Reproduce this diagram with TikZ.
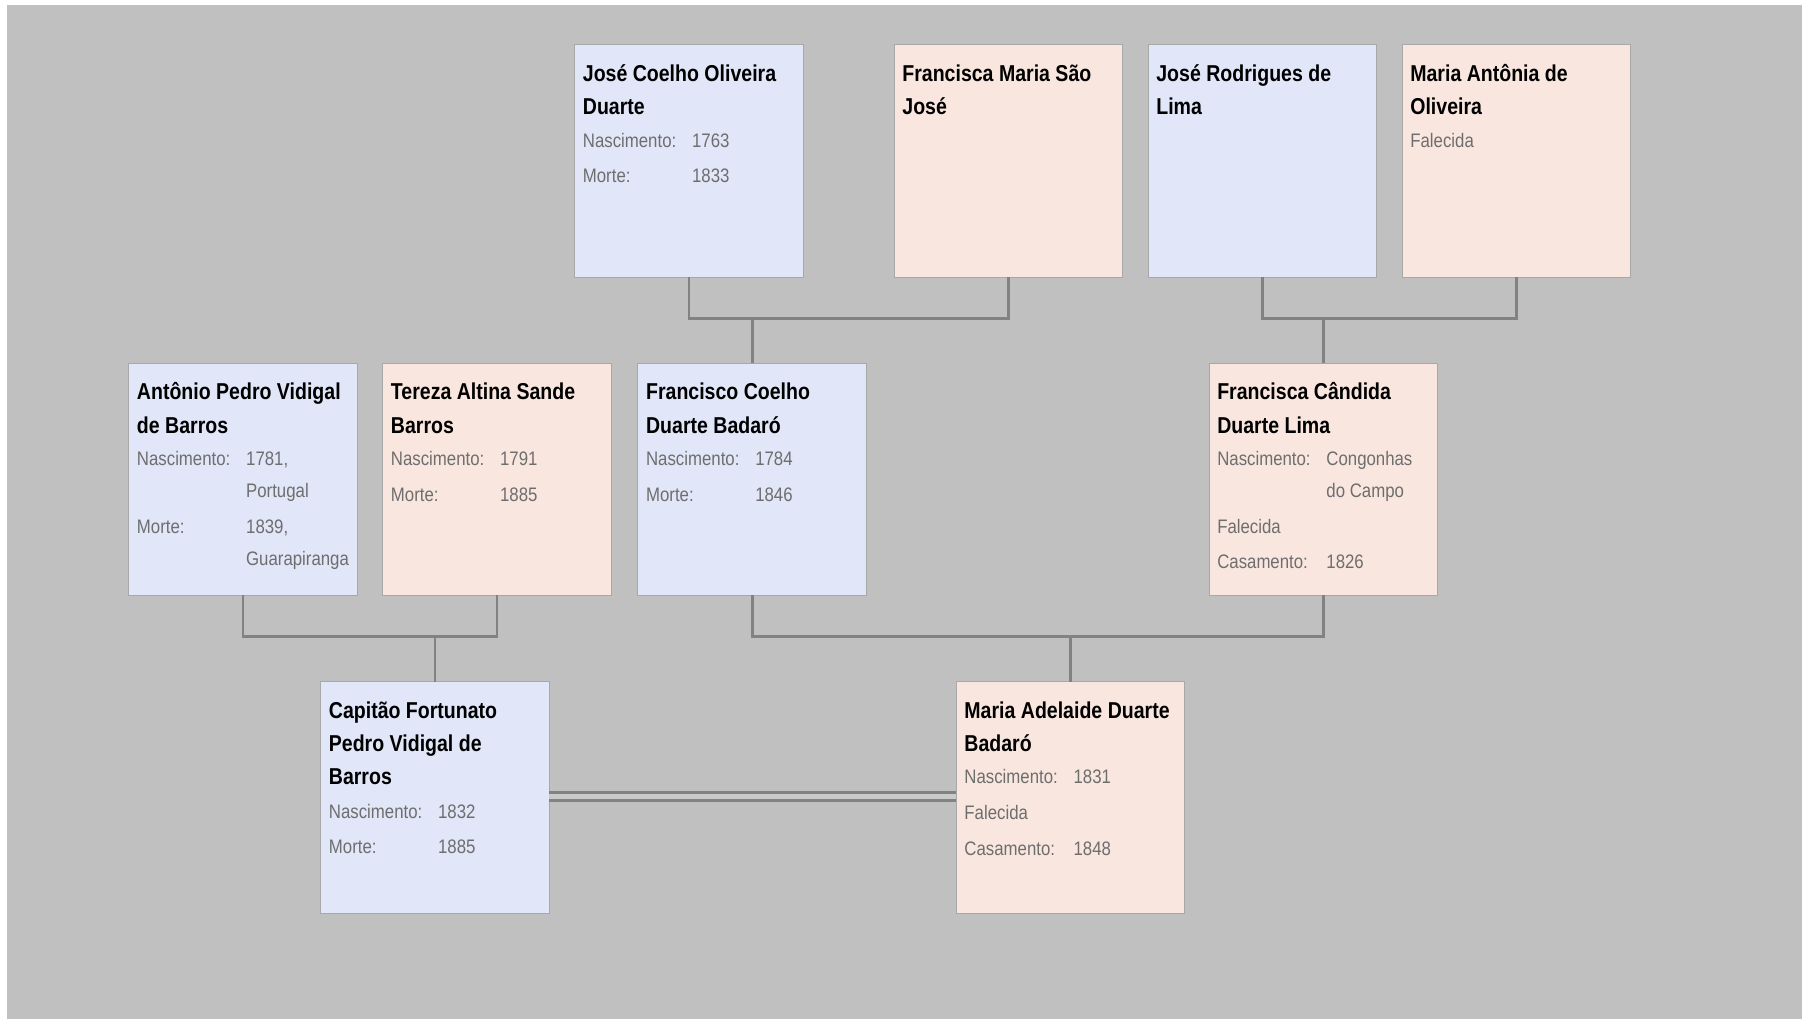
\documentclass[tikz,border=0pt]{standalone}
\usepackage{fontspec}
\setmainfont{Liberation Sans}
\newfontfamily\namefam[FakeStretch=0.85]{Liberation Sans}
\newfontfamily\detfam[FakeStretch=0.86]{Liberation Sans}
\usetikzlibrary{calc}
\definecolor{bgc}{HTML}{C0C0C0}
\definecolor{maleclr}{HTML}{E1E6F8}
\definecolor{femaleclr}{HTML}{F9E6DF}
\definecolor{edgeclr}{HTML}{A8A8A8}
\definecolor{lineclr}{HTML}{828282}
\definecolor{detclr}{HTML}{6E6E6E}
\definecolor{gapclr}{HTML}{CACACA}

\begin{document}
\begin{tikzpicture}[x=1pt,y=-1pt,
  card/.style={draw=edgeclr, line width=0.8pt, anchor=north west,
    minimum width=199pt, minimum height=202pt, inner sep=0pt, outer sep=0pt},
  male/.style={card, fill=maleclr},
  female/.style={card, fill=femaleclr},
  nm/.style={anchor=base west, inner sep=0pt,
    font=\namefam\bfseries\fontsize{20}{24}\selectfont, text=black},
  dt/.style={anchor=base west, inner sep=0pt,
    font=\detfam\fontsize{17}{20}\selectfont, text=detclr},
  conn/.style={draw=lineclr, line width=2.4pt},
  wed/.style={draw=lineclr, line width=3pt},
]
% page and background
\useasboundingbox (0,0) rectangle (1568,887);
\fill[white] (0,0) rectangle (1568,887);
\fill[bgc] (6.1,4.3) rectangle (1568,887);

% ---- cards ----
\node[male]   (jcod)  at (500,39)  {};
\node[female] (fmsj)  at (778,39)  {};
\node[male]   (jrl)   at (999,39)  {};
\node[female] (mao)   at (1220,39) {};
\node[male]   (apvb)  at (112,316) {};
\node[female] (tasb)  at (333,316) {};
\node[male]   (fcdb)  at (555,316) {};
\node[female] (fcdl)  at (1052,316) {};
\node[male]   (cfpvb) at (279,593) {};
\node[female] (madb)  at (832,593) {};

% ---- parent connectors ----
\coordinate (m1) at ($(jcod.south)+(0,36)$);
\draw[conn] (jcod.south) -- (m1) -| (fmsj.south);
\draw[conn] (m1 -| fcdb.north) -- (fcdb.north);

\coordinate (m2) at ($(jrl.south)+(0,36)$);
\draw[conn] (jrl.south) -- (m2) -| (mao.south);
\draw[conn] (m2 -| fcdl.north) -- (fcdl.north);

\coordinate (m3) at ($(apvb.south)+(0,36)$);
\draw[conn] (apvb.south) -- (m3) -| (tasb.south);
\draw[conn] (m3 -| cfpvb.north) -- (cfpvb.north);

\coordinate (m4) at ($(fcdb.south)+(0,36)$);
\draw[conn] (fcdb.south) -- (m4) -| (fcdl.south);
\draw[conn] (m4 -| madb.north) -- (madb.north);

% ---- marriage double line ----
\draw[gapclr, line width=4pt] ($(cfpvb.east)+(0,-1)$) -- ($(madb.west)+(0,-1)$);
\draw[wed] ($(cfpvb.east)+(0,-4.5)$) -- ($(madb.west)+(0,-4.5)$);
\draw[wed] ($(cfpvb.east)+(0,2.5)$) -- ($(madb.west)+(0,2.5)$);

% ---- card texts ----
% José Coelho Oliveira Duarte
\node[nm] (jcod-n1) at ($(jcod.north west)+(7,32)$) {José Coelho Oliveira};
\node[nm] (jcod-n2) at ($(jcod.north west)+(7,61)$) {Duarte};
\node[dt] (jcod-l1) at ($(jcod.north west)+(7,89)$) {Nascimento:};
\node[dt] (jcod-v1) at ($(jcod.north west)+(102,89)$) {1763};
\node[dt] (jcod-l2) at ($(jcod.north west)+(7,120)$) {Morte:};
\node[dt] (jcod-v2) at ($(jcod.north west)+(102,120)$) {1833};

% Francisca Maria São José
\node[nm] (fmsj-n1) at ($(fmsj.north west)+(7,32)$) {Francisca Maria São};
\node[nm] (fmsj-n2) at ($(fmsj.north west)+(7,61)$) {José};

% José Rodrigues de Lima
\node[nm] (jrl-n1) at ($(jrl.north west)+(7,32)$) {José Rodrigues de};
\node[nm] (jrl-n2) at ($(jrl.north west)+(7,61)$) {Lima};

% Maria Antônia de Oliveira
\node[nm] (mao-n1) at ($(mao.north west)+(7,32)$) {Maria Antônia de};
\node[nm] (mao-n2) at ($(mao.north west)+(7,61)$) {Oliveira};
\node[dt] (mao-l1) at ($(mao.north west)+(7,89)$) {Falecida};

% Antônio Pedro Vidigal de Barros
\node[nm] (apvb-n1) at ($(apvb.north west)+(7,32)$) {Antônio Pedro Vidigal};
\node[nm] (apvb-n2) at ($(apvb.north west)+(7,61)$) {de Barros};
\node[dt] (apvb-l1) at ($(apvb.north west)+(7,89)$) {Nascimento:};
\node[dt] (apvb-v1) at ($(apvb.north west)+(102,89)$) {1781,};
\node[dt] (apvb-v1b) at ($(apvb.north west)+(102,117)$) {Portugal};
\node[dt] (apvb-l2) at ($(apvb.north west)+(7,148)$) {Morte:};
\node[dt] (apvb-v2) at ($(apvb.north west)+(102,148)$) {1839,};
\node[dt] (apvb-v2b) at ($(apvb.north west)+(102,176)$) {Guarapiranga};

% Tereza Altina Sande Barros
\node[nm] (tasb-n1) at ($(tasb.north west)+(7,32)$) {Tereza Altina Sande};
\node[nm] (tasb-n2) at ($(tasb.north west)+(7,61)$) {Barros};
\node[dt] (tasb-l1) at ($(tasb.north west)+(7,89)$) {Nascimento:};
\node[dt] (tasb-v1) at ($(tasb.north west)+(102,89)$) {1791};
\node[dt] (tasb-l2) at ($(tasb.north west)+(7,120)$) {Morte:};
\node[dt] (tasb-v2) at ($(tasb.north west)+(102,120)$) {1885};

% Francisco Coelho Duarte Badaró
\node[nm] (fcdb-n1) at ($(fcdb.north west)+(7,32)$) {Francisco Coelho};
\node[nm] (fcdb-n2) at ($(fcdb.north west)+(7,61)$) {Duarte Badaró};
\node[dt] (fcdb-l1) at ($(fcdb.north west)+(7,89)$) {Nascimento:};
\node[dt] (fcdb-v1) at ($(fcdb.north west)+(102,89)$) {1784};
\node[dt] (fcdb-l2) at ($(fcdb.north west)+(7,120)$) {Morte:};
\node[dt] (fcdb-v2) at ($(fcdb.north west)+(102,120)$) {1846};

% Francisca Cândida Duarte Lima
\node[nm] (fcdl-n1) at ($(fcdl.north west)+(7,32)$) {Francisca Cândida};
\node[nm] (fcdl-n2) at ($(fcdl.north west)+(7,61)$) {Duarte Lima};
\node[dt] (fcdl-l1) at ($(fcdl.north west)+(7,89)$) {Nascimento:};
\node[dt] (fcdl-v1) at ($(fcdl.north west)+(102,89)$) {Congonhas};
\node[dt] (fcdl-v1b) at ($(fcdl.north west)+(102,117)$) {do Campo};
\node[dt] (fcdl-l2) at ($(fcdl.north west)+(7,148)$) {Falecida};
\node[dt] (fcdl-l3) at ($(fcdl.north west)+(7,179)$) {Casamento:};
\node[dt] (fcdl-v3) at ($(fcdl.north west)+(102,179)$) {1826};

% Capitão Fortunato Pedro Vidigal de Barros
\node[nm] (cfpvb-n1) at ($(cfpvb.north west)+(7,32)$) {Capitão Fortunato};
\node[nm] (cfpvb-n2) at ($(cfpvb.north west)+(7,61)$) {Pedro Vidigal de};
\node[nm] (cfpvb-n3) at ($(cfpvb.north west)+(7,90)$) {Barros};
\node[dt] (cfpvb-l1) at ($(cfpvb.north west)+(7,119)$) {Nascimento:};
\node[dt] (cfpvb-v1) at ($(cfpvb.north west)+(102,119)$) {1832};
\node[dt] (cfpvb-l2) at ($(cfpvb.north west)+(7,150)$) {Morte:};
\node[dt] (cfpvb-v2) at ($(cfpvb.north west)+(102,150)$) {1885};

% Maria Adelaide Duarte Badaró
\node[nm] (madb-n1) at ($(madb.north west)+(7,32)$) {Maria Adelaide Duarte};
\node[nm] (madb-n2) at ($(madb.north west)+(7,61)$) {Badaró};
\node[dt] (madb-l1) at ($(madb.north west)+(7,89)$) {Nascimento:};
\node[dt] (madb-v1) at ($(madb.north west)+(102,89)$) {1831};
\node[dt] (madb-l2) at ($(madb.north west)+(7,120)$) {Falecida};
\node[dt] (madb-l3) at ($(madb.north west)+(7,151)$) {Casamento:};
\node[dt] (madb-v3) at ($(madb.north west)+(102,151)$) {1848};
\end{tikzpicture}
\end{document}
